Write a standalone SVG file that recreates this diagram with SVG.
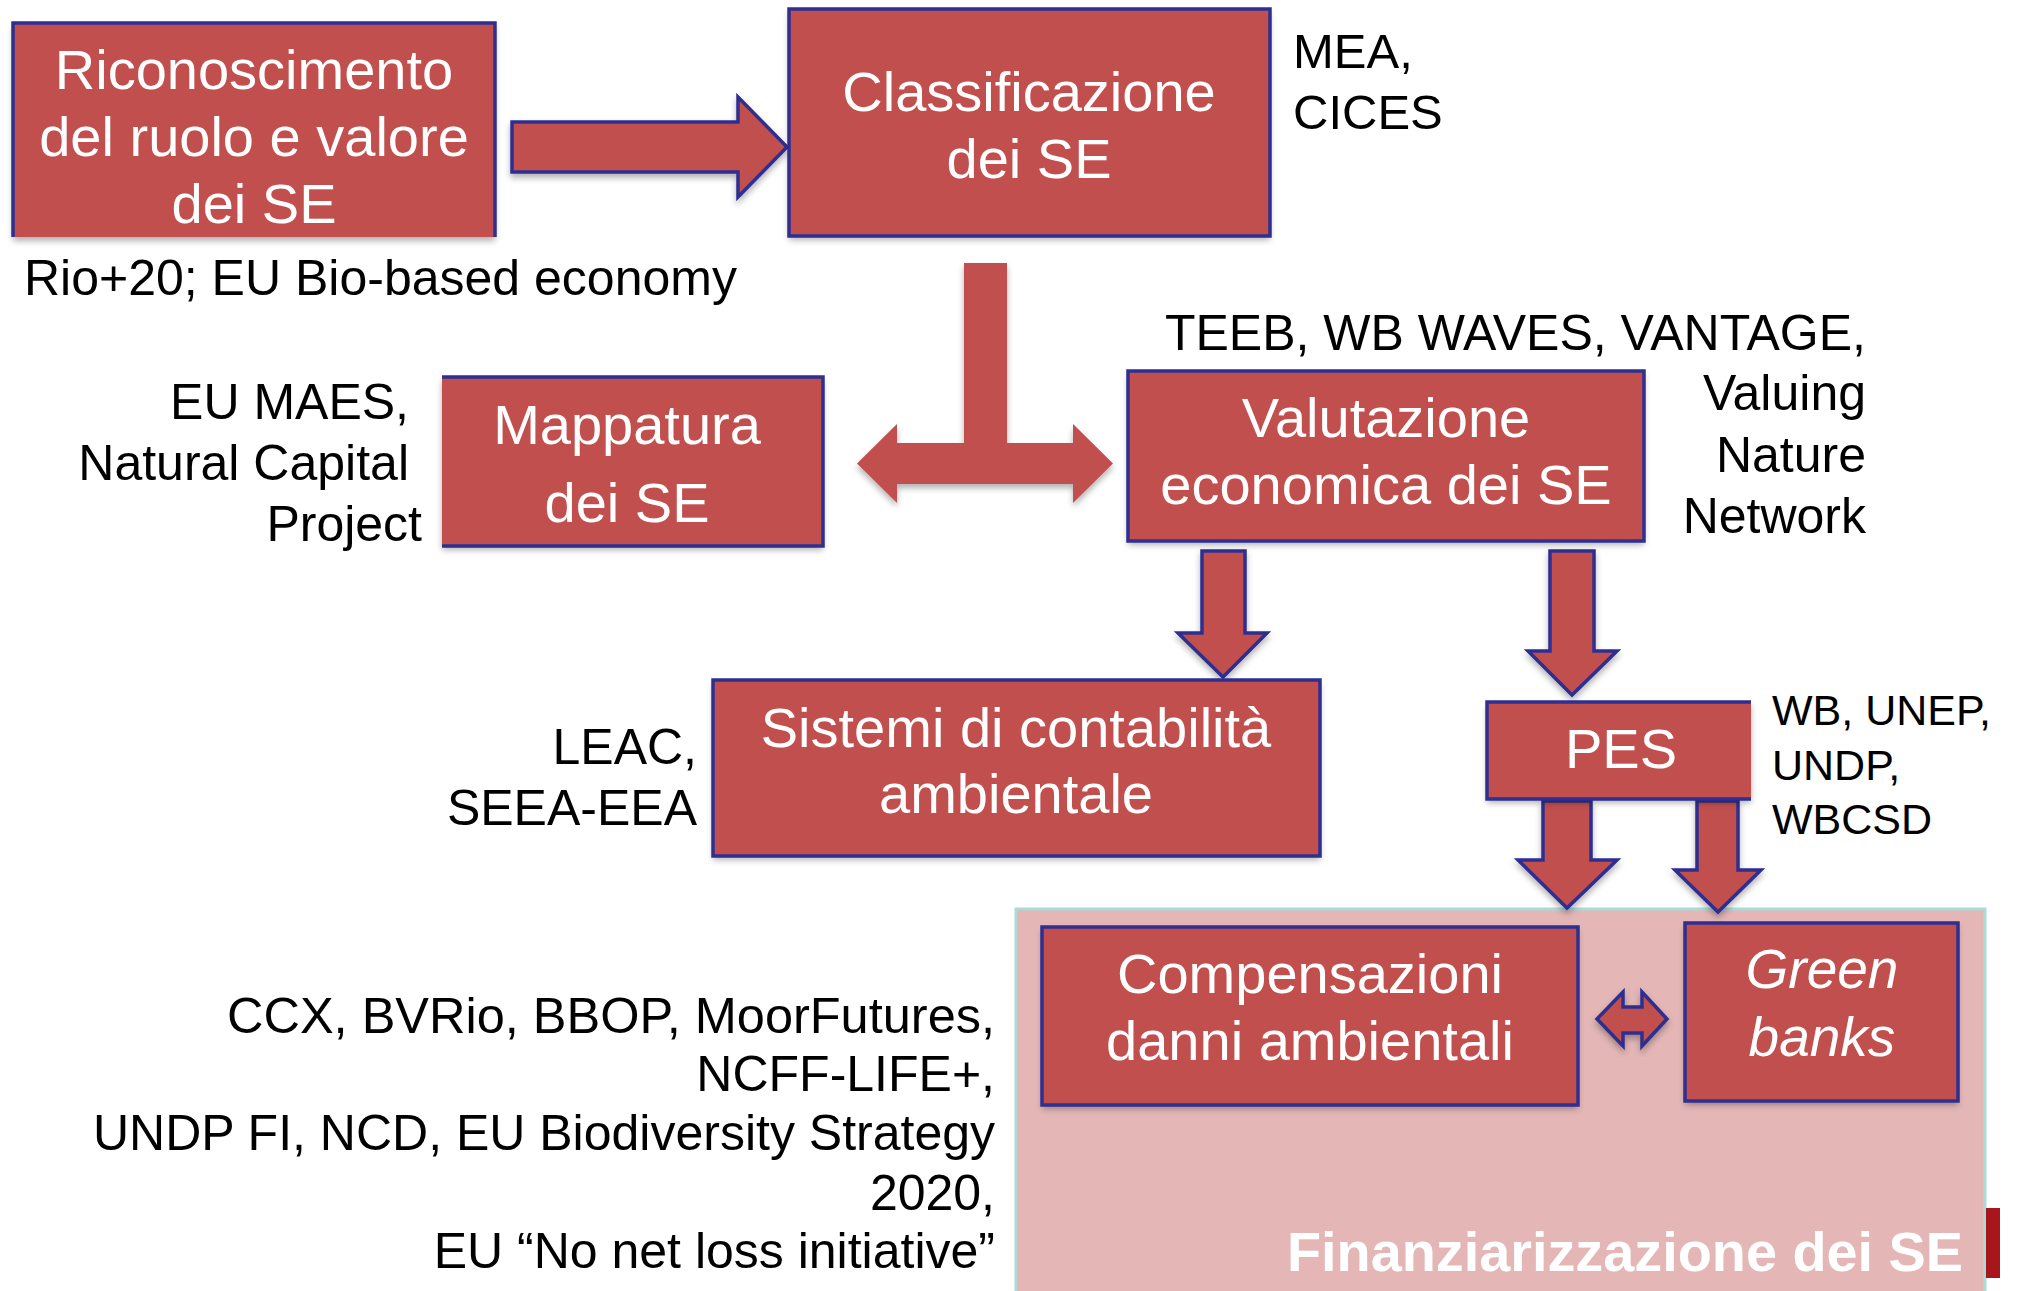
<svg xmlns="http://www.w3.org/2000/svg" width="2020" height="1291" viewBox="0 0 2020 1291">
<defs>
<filter id="sh" x="-10%" y="-10%" width="120%" height="130%">
<feDropShadow dx="0" dy="4" stdDeviation="3" flood-color="#000" flood-opacity="0.3"/>
</filter>
<style>
.box{fill:#c0504d;filter:url(#sh)}
.bd{fill:none;stroke:#2e2f91;stroke-width:3.5;stroke-linejoin:miter}
.arr{fill:#c0504d;stroke:#2e2f91;stroke-width:3.5;stroke-linejoin:miter;filter:url(#sh)}
.bt{font-family:"Liberation Sans",Arial,sans-serif;font-size:56px;fill:#fff;text-anchor:middle}
.it{font-style:italic;font-size:55px}
.lb{font-family:"Liberation Sans",Arial,sans-serif;font-size:50px;fill:#000}
.s49{font-size:49px}
.s43{font-size:43px}
.end{text-anchor:end}
</style>
</defs>
<rect width="2020" height="1291" fill="#fff"/>

<g id="finanziarizzazione">
<rect x="1016" y="909" width="969" height="390" fill="#e4b6b6"/>
<path d="M1016,1291 L1016,909 L1985,909 L1985,1291" fill="none" stroke="#aadbd8" stroke-width="3"/>
<text x="1963" y="1271" font-family="'Liberation Sans',Arial,sans-serif" font-size="55" font-weight="bold" fill="#fff" text-anchor="end" textLength="676" lengthAdjust="spacingAndGlyphs">Finanziarizzazione dei SE</text>
</g>
<rect x="1986" y="1208" width="14" height="70" fill="#a8161b"/>

<g id="connectors">
<path class="arr" d="M512,122 L738,122 L738,97 L787,147 L738,197 L738,172 L512,172 Z"/>
<path d="M964,263 L1007,263 L1007,443 L1073,443 L1073,424 L1113,463.5 L1073,503 L1073,484 L897,484 L897,503 L857,463.5 L897,424 L897,443 L964,443 Z" fill="#c0504d" filter="url(#sh)"/>
<path class="arr" d="M1202,551 L1245,551 L1245,633 L1267,633 L1223,677 L1178,633 L1202,633 Z"/>
<path class="arr" d="M1550,551 L1594,551 L1594,651 L1617,651 L1572,695 L1528,651 L1550,651 Z"/>
<path class="arr" d="M1543,801 L1591,801 L1591,860 L1617,860 L1567,908 L1518,860 L1543,860 Z"/>
<path class="arr" d="M1697,801 L1738,801 L1738,870 L1761,870 L1718,912 L1675,870 L1697,870 Z"/>
<path class="arr" d="M1597,1019 L1623,992 L1623,1007 L1642,1007 L1642,992 L1667,1019 L1642,1046 L1642,1033 L1623,1033 L1623,1046 Z"/>
</g>

<g id="riconoscimento">
<rect class="box" x="13" y="23" width="482" height="214"/>
<path class="bd" d="M13,237 L13,23 L495,23 L495,237"/>
<text class="bt" x="254" y="89">Riconoscimento</text>
<text class="bt" x="254" y="156">del ruolo e valore</text>
<text class="bt" x="254" y="223">dei SE</text>
</g>

<g id="classificazione">
<rect class="box" x="789" y="9" width="481" height="227"/>
<rect class="bd" x="789" y="9" width="481" height="227"/>
<text class="bt" x="1029" y="111">Classificazione</text>
<text class="bt" x="1029" y="178">dei SE</text>
</g>

<g id="mappatura">
<rect class="box" x="442" y="377" width="381" height="169"/>
<path class="bd" d="M442,377 L823,377 L823,546 L442,546"/>
<text class="bt" x="627" y="444">Mappatura</text>
<text class="bt" x="627" y="522">dei SE</text>
</g>

<g id="valutazione">
<rect class="box" x="1128" y="371" width="516" height="170"/>
<rect class="bd" x="1128" y="371" width="516" height="170"/>
<text class="bt" x="1386" y="437">Valutazione</text>
<text class="bt" x="1386" y="504">economica dei SE</text>
</g>

<g id="sistemi">
<rect class="box" x="713" y="680" width="607" height="176"/>
<rect class="bd" x="713" y="680" width="607" height="176"/>
<text class="bt" x="1016" y="747">Sistemi di contabilità</text>
<text class="bt" x="1016" y="813">ambientale</text>
</g>

<g id="pes">
<rect class="box" x="1487" y="702" width="264" height="97"/>
<path class="bd" d="M1751,702 L1487,702 L1487,799 L1751,799"/>
<text class="bt" x="1621" y="768">PES</text>
</g>

<g id="compensazioni">
<rect class="box" x="1042" y="927" width="536" height="178"/>
<rect class="bd" x="1042" y="927" width="536" height="178"/>
<text class="bt" x="1310" y="993">Compensazioni</text>
<text class="bt" x="1310" y="1060">danni ambientali</text>
</g>

<g id="green-banks">
<rect class="box" x="1685" y="923" width="273" height="178"/>
<rect class="bd" x="1685" y="923" width="273" height="178"/>
<text class="bt it" x="1822" y="988">Green</text>
<text class="bt it" x="1822" y="1056">banks</text>
</g>

<g id="labels">
<text class="lb s49" x="1293" y="68">MEA,</text>
<text class="lb s49" x="1293" y="129">CICES</text>
<text class="lb" x="24" y="295">Rio+20; EU Bio-based economy</text>
<text class="lb end" x="409" y="419">EU MAES,</text>
<text class="lb end" x="409" y="480">Natural Capital</text>
<text class="lb end" x="422" y="541">Project</text>
<text class="lb end" x="1866" y="350">TEEB, WB WAVES, VANTAGE,</text>
<text class="lb end" x="1866" y="410">Valuing</text>
<text class="lb end" x="1866" y="472">Nature</text>
<text class="lb end" x="1866" y="533">Network</text>
<text class="lb end" x="697" y="764">LEAC,</text>
<text class="lb end" x="697" y="825">SEEA-EEA</text>
<text class="lb s43" x="1772" y="725">WB, UNEP,</text>
<text class="lb s43" x="1772" y="780">UNDP,</text>
<text class="lb s43" x="1772" y="834">WBCSD</text>
<text class="lb end" x="995" y="1033" textLength="768" lengthAdjust="spacingAndGlyphs">CCX, BVRio, BBOP, MoorFutures,</text>
<text class="lb end" x="995" y="1091">NCFF-LIFE+,</text>
<text class="lb end" x="995" y="1150">UNDP FI, NCD, EU Biodiversity Strategy</text>
<text class="lb end" x="995" y="1210">2020,</text>
<text class="lb end" x="995" y="1268">EU “No net loss initiative”</text>
</g>
</svg>
